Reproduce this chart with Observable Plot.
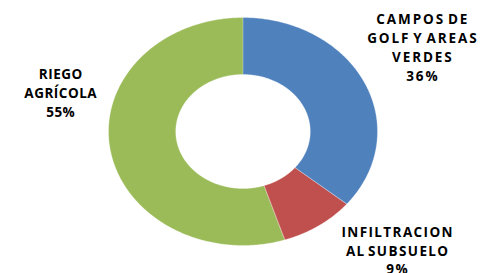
<!DOCTYPE html>
<html>
<head>
<meta charset="utf-8">
<script src="https://cdn.jsdelivr.net/npm/d3@7"></script>
<script src="https://cdn.jsdelivr.net/npm/@observablehq/plot@0.6"></script>
<style>
  html, body { margin: 0; padding: 0; background: #fff; }
  #chart svg { display: block; }
</style>
</head>
<body>
<div id="chart"></div>
<script>
// Data
const categories = ["CAMPOS DE GOLF Y AREAS VERDES", "INFILTRACION AL SUBSUELO", "RIEGO AGRÍCOLA"];
const values = [36, 9, 55];
const labelLines = [
  "CAMPOS DE\nGOLF Y AREAS\nVERDES\n36%",
  "INFILTRACION\nAL SUBSUELO\n9%",
  "RIEGO\nAGRÍCOLA\n55%"
];
const colors = ["#4F81BD", "#C0504D", "#9BBB59"];

// Label layout (unit-circle coordinates, outside the ring) and letter spacing
const labelPos = [
  {x: 1.33, y: 0.745},
  {x: 1.145, y: -1.035},
  {x: -1.357, y: 0.345}
];
const labelTracking = [1.9, 1.4, 0.5];

const innerRatio = 0.5;
const pie = d3.pie().sort(null).value(d => d.value)(categories.map((c, i) => ({cat: c, value: values[i]})));

// Build ring-slice polygons in unit coordinates
const pts = [];
for (const s of pie) {
  const n = Math.max(8, Math.ceil((s.endAngle - s.startAngle) / 0.01));
  for (let k = 0; k <= n; k++) {
    const a = s.startAngle + (s.endAngle - s.startAngle) * k / n;
    pts.push({cat: s.data.cat, x: Math.sin(a), y: Math.cos(a)});
  }
  for (let k = n; k >= 0; k--) {
    const a = s.startAngle + (s.endAngle - s.startAngle) * k / n;
    pts.push({cat: s.data.cat, x: innerRatio * Math.sin(a), y: innerRatio * Math.cos(a)});
  }
}

const chart = Plot.plot({
  width: 481,
  height: 273,
  margin: 0,
  x: {domain: [-1, 1], range: [108, 377], axis: null},
  y: {domain: [-1, 1], range: [245, 17], axis: null},
  color: {domain: categories, range: colors},
  style: {background: "#fff", fontFamily: "'Open Sans', Lato, sans-serif"},
  marks: [
    Plot.line(pts, {x: "x", y: "y", z: "cat", fill: "cat", stroke: "#ffffff", strokeWidth: 0.5, strokeOpacity: 0.6, curve: "linear-closed"}),
    ...categories.map((c, i) => Plot.text([{cat: c, text: labelLines[i], x: labelPos[i].x, y: labelPos[i].y}], {
      x: "x", y: "y", text: "text", fontSize: 13.5, fontWeight: "bold", fill: "#000",
      lineHeight: 1.4, lineAnchor: "middle", textAnchor: "middle",
      dx: labelTracking[i] / 2
    }))
  ]
});
// apply letter spacing per label, tighter word spacing
chart.querySelectorAll('g[aria-label="text"]').forEach((g, i) => {
  g.setAttribute("letter-spacing", labelTracking[i] + "px");
  g.setAttribute("word-spacing", "-2.5px");
});
document.getElementById("chart").appendChild(chart);
</script>
</body>
</html>
